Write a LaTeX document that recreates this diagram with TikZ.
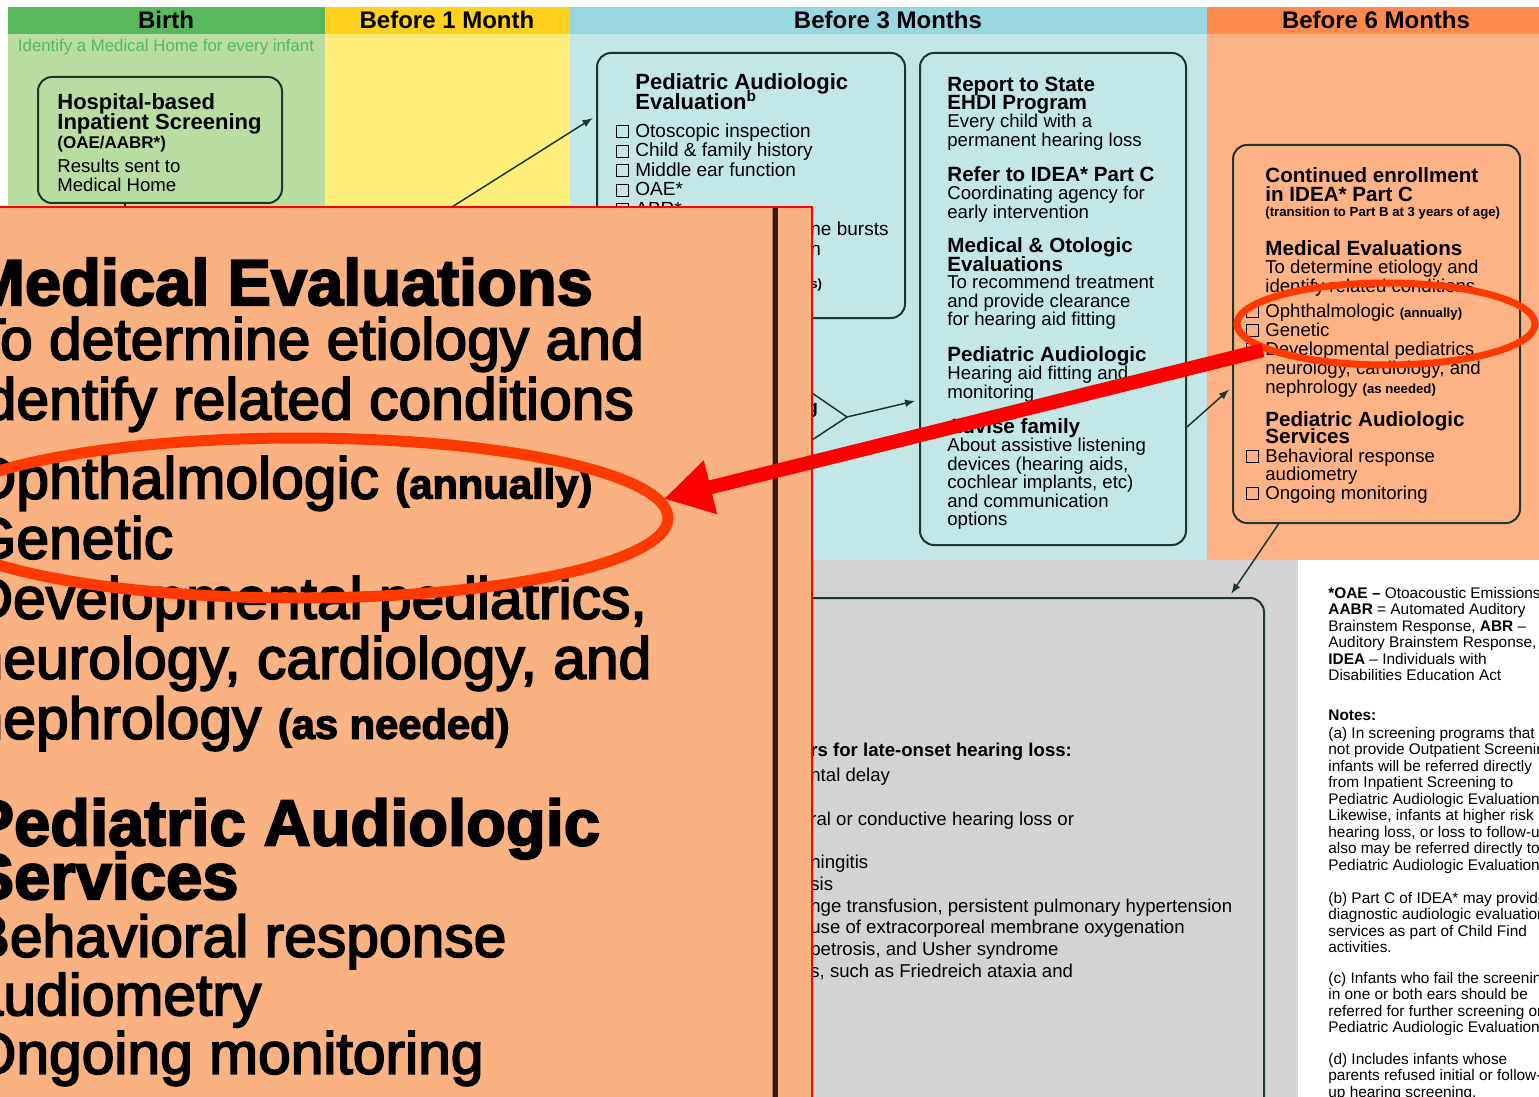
\documentclass[tikz,border=0pt]{standalone}
\usepackage{fontspec}
\setmainfont{Liberation Sans}
\usepackage{tikz}
\usetikzlibrary{shapes.geometric}
\usetikzlibrary{arrows}
\usetikzlibrary{arrows.meta}
\definecolor{BirthHead}{HTML}{58B85C}
\definecolor{BirthBody}{HTML}{B9DCA0}
\definecolor{HomeGreen}{HTML}{55B665}
\definecolor{MonthHead}{HTML}{FFD21F}
\definecolor{MonthBody}{HTML}{FFEF7A}
\definecolor{ThreeHead}{HTML}{9AD6E0}
\definecolor{ThreeBody}{HTML}{C2E7E6}
\definecolor{SixHead}{HTML}{FF8A4F}
\definecolor{SixBody}{HTML}{FDB385}
\definecolor{LateGray}{HTML}{D3D3D3}
\definecolor{BoxLine}{HTML}{1E3530}
\definecolor{ZoomFill}{HTML}{FBB283}
\definecolor{ZoomEdge}{HTML}{3A1A0E}
\definecolor{RingRed}{HTML}{FF3A00}
\newcommand{\zoomweight}{}
\newcommand{\cbx}{\llap{\fboxsep=0pt\fboxrule=0.5pt\fbox{\rule{0pt}{5.5pt}\hspace{5.5pt}}\hspace{3pt}}}
\newcommand{\smallnote}{\bfseries\fontsize{6.6}{9.5}\selectfont\zoomweight}
\newcommand{\sixmonths}[1]{%
  \node[box, minimum width=143.5pt, minimum height=189pt] (#1box) at (1376.5,334) {};
  \node[bld] (#1enrol) at (1265,167.6) {Continued enrollment\\in IDEA* Part C};
  \node[txt, font=\bfseries\fontsize{6.6}{8}\selectfont\zoomweight] (#1trans) at (1265,206.5) {(transition to Part B at 3 years of age)};
  \node[bld] (#1med) at (1265,240.6) {Medical Evaluations};
  \node[txt, font=\fontsize{9.3}{9.5}\selectfont\zoomweight] (#1etio) at (1265,259.3) {To determine etiology and\\identify related conditions};
  \node[txt, font=\fontsize{9.3}{9.5}\selectfont\zoomweight] (#1exams) at (1265,303.3) {\cbx Ophthalmologic {\smallnote (annually)}\\\cbx Genetic\\\cbx Developmental pediatrics,\\neurology, cardiology, and\\nephrology {\smallnote (as needed)}};
  \node[bld, font=\bfseries\fontsize{10.3}{8.5}\selectfont\zoomweight] (#1aud) at (1265,411.6) {Pediatric Audiologic\\Services};
  \node[txt] (#1audlist) at (1265,448.3) {\cbx Behavioral response\\audiometry\\\cbx Ongoing monitoring};
}

\begin{document}
\lineskiplimit=-20pt
\begin{tikzpicture}[x=0.5pt, y=-0.5pt,
    box/.style={draw=BoxLine, line width=1pt, rounded corners=7pt, inner sep=0pt},
    txt/.style={anchor=north west, inner sep=0pt, align=left, font=\fontsize{9.3}{9.25}\selectfont\zoomweight},
    bld/.style={txt, font=\bfseries\fontsize{10.3}{9.25}\selectfont\zoomweight},
    ttl/.style={txt, font=\bfseries\fontsize{11}{10}\selectfont},
    hdr/.style={inner sep=0pt, font=\bfseries\fontsize{12}{12}\selectfont},
    note/.style={txt, font=\fontsize{7.7}{8.25}\selectfont},
    link/.style={draw=BoxLine, line width=0.75pt},
    con/.style={link, -latex, shorten >=2pt},
    ring/.style={ellipse, draw=RingRed, inner sep=0pt}]
    \useasboundingbox (0,0) rectangle (1539,1097);
    \clip (0,0) rectangle (1539,1097);
    \fill[white] (0,0) rectangle (1539,1097);

    \fill[BirthHead] (8,7) rectangle (325,34);
    \fill[MonthHead] (325,7) rectangle (570,34);
    \fill[ThreeHead] (570,7) rectangle (1207,34);
    \fill[SixHead] (1207,7) rectangle (1539,34);
    \fill[BirthBody] (8,34) rectangle (325,560);
    \fill[MonthBody] (325,34) rectangle (570,560);
    \fill[ThreeBody] (570,34) rectangle (1207,560);
    \fill[SixBody] (1207,34) rectangle (1539,560);
    \fill[LateGray] (0,560) rectangle (1298,1097);

    \node[hdr] (birth) at (166,20) {Birth};
    \node[hdr] (month1) at (447,20) {Before 1 Month};
    \node[hdr] (month3) at (888,20) {Before 3 Months};
    \node[hdr] (month6) at (1376,20) {Before 6 Months};
    \node[inner sep=0pt, text=HomeGreen, font=\fontsize{8.4}{9}\selectfont] (home) at (166,47) {Identify a Medical Home for every infant};

    \node[box, minimum width=122pt, minimum height=63pt] (hospbox) at (160,140) {};
    \node[ttl] (hosptitle) at (57,93) {Hospital-based\\Inpatient Screening};
    \node[txt, font=\bfseries\fontsize{8.5}{9}\selectfont] (hosptest) at (57,136) {(OAE/AABR*)};
    \node[txt] (hospres) at (57,159) {Results sent to\\Medical Home};

    \node[box, minimum width=154pt, minimum height=132.5pt] (paebox) at (751,185.5) {};
    \node[ttl] (paetitle) at (635,73) {Pediatric Audiologic\\Evaluation\textsuperscript{b}};
    \node[txt, font=\fontsize{9.5}{9.75}\selectfont] (paelist) at (635,123) {\cbx Otoscopic inspection\\\cbx Child \& family history\\\cbx Middle ear function\\\cbx OAE*\\\cbx ABR*};
    \node[txt, font=\fontsize{9.5}{10}\selectfont] (paebursts) at (810,221) {ne bursts\\n};
    \node[txt, font=\bfseries\fontsize{6.6}{8}\selectfont] (paenote) at (810,279) {s)};
    \node[txt, font=\bfseries\fontsize{9.5}{10}\selectfont] (forktext) at (806,403) {g};

    \node[box, minimum width=133pt, minimum height=246pt] (repbox) at (1053,299) {};
    \node[bld] (ehdi) at (947,76.6) {Report to State\\EHDI Program};
    \node[txt] (ehdinote) at (947,114) {Every child with a\\permanent hearing loss};
    \node[bld] (partc) at (947,166.6) {Refer to IDEA* Part C};
    \node[txt] (partcnote) at (947,186) {Coordinating agency for\\early intervention};
    \node[bld] (otol) at (947,237.6) {Medical \& Otologic\\Evaluations};
    \node[txt] (otolnote) at (947,275) {To recommend treatment\\and provide clearance\\for hearing aid fitting};
    \node[bld] (aid) at (947,346.6) {Pediatric Audiologic};
    \node[txt] (aidnote) at (947,366) {Hearing aid fitting and\\monitoring};
    \node[bld] (advise) at (947,418.6) {Advise family};
    \node[txt] (advisenote) at (947,438) {About assistive listening\\devices (hearing aids,\\cochlear implants, etc)\\and communication\\options};

    \sixmonths{cont}

    \node[box, minimum width=612pt, minimum height=271pt] (latebox) at (652,869) {};
    \node[txt, font=\bfseries\fontsize{9.3}{10.85}\selectfont] (risk) at (810,743) {rs for late-onset hearing loss:};
    \node[txt, font=\fontsize{9.3}{10.85}\selectfont] (risklist) at (810,768) {ntal delay\\\mbox{}\\ral or conductive hearing loss or\\\mbox{}\\ningitis\\sis\\nge transfusion, persistent pulmonary hypertension\\use of extracorporeal membrane oxygenation\\petrosis, and Usher syndrome\\s, such as Friedreich ataxia and};

    \node[note] (gloss) at (1328,586.5) {\textbf{*OAE --} Otoacoustic Emissions,\\\textbf{AABR} = Automated Auditory\\Brainstem Response, \textbf{ABR} --\\Auditory Brainstem Response,\\\textbf{IDEA} -- Individuals with\\Disabilities Education Act};
    \node[note, font=\bfseries\fontsize{7.7}{8.25}\selectfont] (noteshead) at (1328,709.5) {Notes:};
    \node[note] (notea) at (1328,726.5) {(a) In screening programs that\\not provide Outpatient Screening\\infants will be referred directly\\from Inpatient Screening to\\Pediatric Audiologic Evaluation\\Likewise, infants at higher risk\\hearing loss, or loss to follow-up\\also may be referred directly to\\Pediatric Audiologic Evaluation};
    \node[note] (noteb) at (1328,891.5) {(b) Part C of IDEA* may provide\\diagnostic audiologic evaluation\\services as part of Child Find\\activities.};
    \node[note] (notec) at (1328,971.5) {(c) Infants who fail the screening\\in one or both ears should be\\referred for further screening or\\Pediatric Audiologic Evaluation};
    \node[note] (noted) at (1328,1052.5) {(d) Includes infants whose\\parents refused initial or follow-\\up hearing screening.};

    \coordinate (outp) at (368,260);
    \coordinate (hospdown) at (125,260);
    \coordinate (fork1) at (780,371);
    \coordinate (fork2) at (780,461);
    \coordinate (fork) at (847,417);
    \draw[link] ([xshift=-17.5pt]hospbox.south) -- (hospdown);
    \draw[con] (outp) -- ([yshift=34.75pt]paebox.west);
    \draw[link] (fork1) -- (fork) -- (fork2);
    \draw[con] (fork) -- ([yshift=-50.5pt]repbox.west);
    \draw[con] ([yshift=-64pt]repbox.east) -- ([yshift=-26.5pt]contbox.west);
    \draw[con] ([xshift=-49pt]contbox.south) -- ([xshift=-18pt]latebox.north east);

    \node[ring, line width=3.5pt, minimum width=149pt, minimum height=41pt] (ring) at (1386,324) {};

    \fill[ZoomFill] (-5,207) rectangle (812,1105);
    \begin{scope}
      \clip (0,207) rectangle (812,1105);
      \begin{scope}[shift={(-4028,-503.7)}, scale=3.16, transform shape,
          box/.append style={draw=ZoomEdge, line width=2.6pt}]
        \renewcommand{\zoomweight}{\addfontfeature{FakeBold=3}}
        \sixmonths{zoom}
      \end{scope}
    \end{scope}
    \draw[red, line width=1pt] (-5,207) rectangle (812,1105);
    \node[ring, line width=5.5pt, minimum width=370pt, minimum height=80pt] (bigring) at (298,518) {};
    \draw[red, line width=7pt, -{Triangle[length=24pt, width=26pt]}] (ring.192) -- (bigring.3);
\end{tikzpicture}
\end{document}
